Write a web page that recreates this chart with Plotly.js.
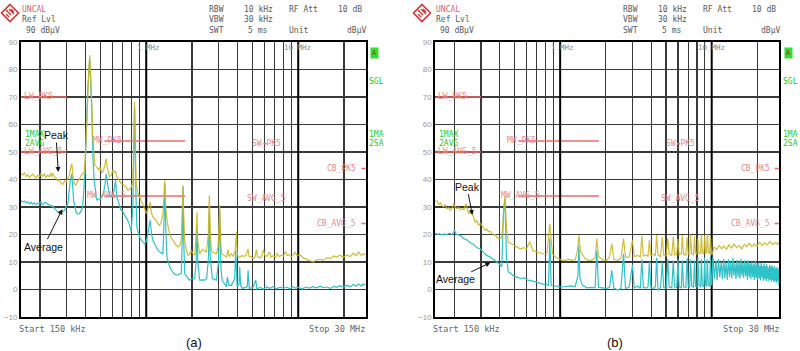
<!DOCTYPE html>
<html><head><meta charset="utf-8">
<script src="https://cdn.plot.ly/plotly-3.0.1.min.js"></script>
<style>html,body{margin:0;padding:0;background:#fff}#chart{width:800px;height:351px}</style>
</head><body><div id="chart"></div>
<script>
// ---------------- DATA (frequency in MHz, level in dBµV) ----------------
const panelLabels = ['(a)', '(b)'];
const yTicks = [-10, 0, 10, 20, 30, 40, 50, 60, 70, 80, 90];
const gridFreqs = [0.2,0.3,0.4,0.5,0.6,0.7,0.8,0.9,1,2,3,4,5,6,7,8,9,10,20];
const decadeFreqs = [1, 10];

const limitNames = ['LW_PK5','LW_AVG_5','MW_PK5','MW_AVG_5','SW_PK5','SW_AVG_5','CB_PK5','CB_AVG_5'];
const limitStart = [0.15, 0.15, 0.53, 0.53, 5.9, 5.9, 26, 26];
const limitStop  = [0.30, 0.30, 1.80, 1.80, 6.2, 6.2, 28, 28];
const limitLevel = [70, 50, 54, 34, 53, 33, 44, 24];

// panel (a): peak (1MAX) and average (2AVG) traces, [freq MHz, dBµV]
const aPeak = [[0.150,42.1],[0.154,41.6],[0.158,42.5],[0.162,41.0],[0.166,41.8],[0.170,40.8],[0.175,41.5],[0.179,42.0],[0.184,41.2],[0.188,40.6],[0.193,41.5],[0.198,41.0],[0.203,42.3],[0.208,41.2],[0.214,42.0],[0.219,40.8],[0.225,41.6],[0.231,40.9],[0.235,42.5],[0.239,41.0],[0.243,42.3],[0.249,41.0],[0.255,40.5],[0.262,39.5],[0.268,40.0],[0.275,38.5],[0.282,38.3],[0.290,39.5],[0.297,39.0],[0.305,40.5],[0.312,41.5],[0.318,44.0],[0.324,45.8],[0.330,41.0],[0.337,38.5],[0.345,38.0],[0.354,39.5],[0.363,40.0],[0.373,41.5],[0.382,42.0],[0.392,43.0],[0.402,54],[0.412,72],[0.419,80],[0.425,85.2],[0.432,78],[0.438,68],[0.445,55],[0.450,50],[0.460,45],[0.473,44.5],[0.485,43.5],[0.497,44.5],[0.510,42.5],[0.523,43.0],[0.535,45],[0.545,47.6],[0.551,45],[0.561,42.5],[0.573,41],[0.588,41.5],[0.604,43.5],[0.618,42.6],[0.628,43.0],[0.641,41.0],[0.667,39.5],[0.684,38.5],[0.702,38.3],[0.720,37.8],[0.738,37.3],[0.757,36.0],[0.776,36.7],[0.796,37.0],[0.817,39.5],[0.828,55],[0.838,68.2],[0.848,52],[0.859,38.5],[0.881,35],[0.904,33.6],[0.928,32.5],[0.951,31.2],[0.975,29.5],[1.000,27.6],[1.026,29],[1.052,31.0],[1.062,31.8],[1.080,28],[1.106,26.4],[1.135,25.8],[1.164,25.2],[1.194,24.0],[1.224,23.3],[1.256,24.5],[1.288,27.6],[1.305,33],[1.321,39.7],[1.338,32],[1.355,27.6],[1.390,23],[1.425,20.3],[1.462,18.8],[1.499,17.9],[1.540,16.5],[1.577,16.0],[1.617,15.5],[1.659,16],[1.701,17.9],[1.724,26],[1.745,37.9],[1.763,28],[1.790,17.9],[1.835,14.5],[1.882,12.4],[1.931,12.8],[1.980,14.2],[2.031,13.0],[2.083,12.5],[2.120,18],[2.158,28.2],[2.180,18],[2.247,13.0],[2.305,14.0],[2.360,14.5],[2.425,14.2],[2.487,13.5],[2.560,20],[2.602,34.2],[2.640,20],[2.685,14.2],[2.753,13.5],[2.820,13.2],[2.895,13.0],[2.970,15.5],[3.010,22],[3.045,30.6],[3.080,20],[3.123,13.0],[3.236,12.5],[3.367,11.8],[3.45,14.5],[3.507,12.0],[3.634,13.0],[3.727,12.0],[3.85,14],[3.92,21],[3.96,14],[4.02,11.8],[4.12,11.8],[4.29,12.4],[4.40,12],[4.55,12.5],[4.68,14.8],[4.75,12],[4.90,12],[5.05,11.2],[5.20,11.8],[5.31,14.5],[5.40,12],[5.59,11.5],[5.75,12.2],[5.90,14.5],[6.03,12.5],[6.20,12.0],[6.50,13.6],[6.60,11.8],[6.84,12.3],[7.10,11.8],[7.27,13.0],[7.50,12.0],[7.77,12.5],[8.00,12.2],[8.24,13.8],[8.50,12.4],[8.68,12.7],[9.00,12.0],[9.30,12.6],[9.55,13.5],[9.85,12.2],[10.2,12.8],[10.8,11.5],[11.35,11.0],[12.0,10.5],[12.56,10.0],[13.2,10.8],[13.9,11.0],[14.6,10.6],[15.4,11.6],[16.3,11.2],[17.1,12.2],[17.9,11.8],[18.8,12.5],[19.8,11.7],[21.0,12.6],[22.0,12.0],[23.0,13.2],[24.0,12.3],[25.0,13.6],[26.0,12.4],[26.8,13.0],[27.8,12.6]];

const aAvg = [[0.150,32.4],[0.154,31.8],[0.158,32.2],[0.162,31.5],[0.166,31.9],[0.170,31.2],[0.175,31.7],[0.179,31.0],[0.184,31.5],[0.188,30.9],[0.193,31.4],[0.198,31.2],[0.203,31.8],[0.208,30.8],[0.214,31.6],[0.219,31.6],[0.225,31.0],[0.231,30.8],[0.239,30.2],[0.243,30.4],[0.249,29.5],[0.255,29.0],[0.262,28.2],[0.268,28.5],[0.275,28.0],[0.282,28.4],[0.290,28.8],[0.297,30.0],[0.305,31.2],[0.315,38.5],[0.324,42.1],[0.333,32.4],[0.345,28.2],[0.354,27.5],[0.363,27.6],[0.373,28.5],[0.382,30],[0.396,43.3],[0.412,72.4],[0.425,84],[0.438,66.4],[0.446,48],[0.454,39.7],[0.473,32.4],[0.485,33.0],[0.497,33],[0.510,34],[0.523,34.8],[0.535,38],[0.545,42.1],[0.561,37.3],[0.573,34.5],[0.588,33.6],[0.605,34.5],[0.618,37],[0.628,39.7],[0.641,33.6],[0.667,31],[0.684,28.8],[0.702,28.3],[0.738,26.4],[0.757,25],[0.776,23.5],[0.796,21],[0.817,30],[0.838,66.4],[0.855,35],[0.868,22.7],[0.904,19.1],[0.940,17.5],[0.975,16.7],[1.000,17.5],[1.026,20.3],[1.062,25.2],[1.085,20],[1.106,17.9],[1.150,16],[1.194,14.2],[1.240,13.5],[1.288,13.0],[1.310,25],[1.328,38.5],[1.345,22],[1.369,11.8],[1.410,9],[1.462,7],[1.520,5.8],[1.577,5.2],[1.640,5.5],[1.701,5.8],[1.725,18],[1.745,37.3],[1.765,18],[1.790,5.8],[1.860,4.5],[1.931,3.4],[2.000,4.0],[2.083,4.0],[2.130,10],[2.158,22.7],[2.185,10],[2.247,3.4],[2.340,3.5],[2.425,3.4],[2.500,4.0],[2.570,12],[2.602,29.4],[2.635,12],[2.724,4.0],[2.895,3.4],[2.990,10],[3.045,28.8],[3.100,8],[3.155,3.4],[3.367,1.0],[3.42,4.5],[3.50,1.5],[3.634,1.5],[3.82,4],[3.88,14.2],[3.96,1.0],[4.08,2],[4.12,8.2],[4.18,1.5],[4.29,0.4],[4.55,0.8],[4.62,1],[4.68,7.0],[4.76,0.4],[5.05,0.8],[5.25,3.5],[5.35,0.2],[5.6,0.8],[5.9,0.2],[6.2,0.9],[6.5,0.4],[6.84,1.0],[7.2,0.3],[7.6,0.8],[8.0,0.5],[8.4,0.9],[8.8,0.3],[9.2,1.0],[9.6,0.5],[10.0,0.8],[10.6,0.2],[11.2,0.9],[11.8,0.5],[12.5,1.0],[13.2,0.6],[13.9,1.2],[14.6,0.7],[15.4,0.9],[16.3,0.4],[17.1,1.1],[17.9,0.8],[18.8,1.4],[19.8,0.9],[21.0,1.6],[22.0,1.0],[23.0,1.8],[24.0,1.2],[25.0,2.0],[26.0,1.3],[26.8,2.0],[27.8,1.6]];

// panel (b)
const bPeak = [[0.150,32.4],[0.154,32.0],[0.158,31.0],[0.162,31.5],[0.166,30.5],[0.170,30.0],[0.175,30.8],[0.179,29.4],[0.184,29.8],[0.188,28.8],[0.193,29.5],[0.198,31.2],[0.203,30.0],[0.208,29.4],[0.214,29.8],[0.219,29.0],[0.225,29.4],[0.231,29.0],[0.239,31.2],[0.245,28.5],[0.249,27.6],[0.255,28.0],[0.262,27.6],[0.268,26.5],[0.275,24.5],[0.282,25.0],[0.290,23.3],[0.297,24.0],[0.305,23.0],[0.312,22.5],[0.320,21.5],[0.328,22.0],[0.337,21.0],[0.345,21.2],[0.354,20.2],[0.363,19.7],[0.373,20.0],[0.382,19.0],[0.392,18.5],[0.402,18.5],[0.412,19.1],[0.422,28.8],[0.432,34.2],[0.442,22.7],[0.454,17.3],[0.473,16.7],[0.497,16.1],[0.523,15.5],[0.545,14.8],[0.575,15.2],[0.600,14.8],[0.630,17.5],[0.660,14.2],[0.702,13.6],[0.738,13.3],[0.776,13.0],[0.817,13.0],[0.838,18],[0.855,23.9],[0.872,18],[0.890,13],[0.930,11.8],[0.975,11.2],[1.026,10.6],[1.080,10.6],[1.135,11.0],[1.194,10.6],[1.256,10.8],[1.300,14],[1.330,19.7],[1.360,14],[1.400,13],[1.462,11.2],[1.540,10.6],[1.617,10.6],[1.700,11.5],[1.745,18.5],[1.790,12],[1.860,11.2],[1.931,10.6],[2.03,10.6],[2.12,12.0],[2.19,16.7],[2.26,11.0],[2.40,10.6],[2.52,11.5],[2.62,18.5],[2.70,11.8],[2.85,11.8],[3.0,17.9],[3.08,12.0],[3.25,12.4],[3.38,11.8],[3.46,19.5],[3.54,12.2],[3.70,12.6],[3.80,12.0],[3.88,18.0],[3.97,12.4],[4.15,12.8],[4.25,12.2],[4.33,19.8],[4.42,12.5],[4.60,12.0],[4.72,19.0],[4.82,12.6],[5.0,12.2],[5.13,18.5],[5.24,12.8],[5.45,12.4],[5.58,19.2],[5.68,12.5],[5.88,12.8],[5.98,18.4],[6.10,12.6],[6.30,13.0],[6.40,19.8],[6.52,12.8],[6.75,12.5],[6.88,19.0],[7.0,13.0],[7.15,12.8],[7.25,20.0],[7.38,13.0],[7.58,12.6],[7.70,19.4],[7.82,13.2],[8.0,12.8],[8.1,18.6],[8.25,13.0],[8.45,13.2],[8.55,20.0],[8.68,13.4],[8.88,13.0],[8.98,19.6],[9.12,13.2],[9.25,13.4],[9.35,20.2],[9.50,13.5],[9.70,13.2],[9.80,19.8],[9.92,13.0],[10.0,12.5],[10.4,15.5],[10.8,14.5],[11.2,16.0],[11.6,14.8],[12.0,15.8],[12.5,14.6],[13.0,16.2],[13.5,15.0],[14.0,16.5],[14.6,15.2],[15.2,16.0],[15.8,14.8],[16.4,16.4],[17.0,15.5],[17.7,16.8],[18.4,15.6],[19.1,16.5],[19.9,15.8],[20.7,17.2],[21.5,16.0],[22.4,17.0],[23.3,16.2],[24.2,17.5],[25.2,16.4],[26.2,17.0],[27.2,16.5],[27.8,17.3]];

const bAvg = [[0.150,20.5],[0.155,20.0],[0.160,20.3],[0.166,19.8],[0.172,20.2],[0.179,20.0],[0.186,20.5],[0.193,20.0],[0.198,20.8],[0.201,21.5],[0.206,20.2],[0.214,19.7],[0.222,19.5],[0.231,18.5],[0.243,18.0],[0.255,17.0],[0.268,16.5],[0.282,15.2],[0.297,14.8],[0.312,13.5],[0.328,12.4],[0.345,11.8],[0.363,11.0],[0.382,10.0],[0.402,9.0],[0.412,8.2],[0.422,27.6],[0.432,33.0],[0.442,11.8],[0.454,6.5],[0.473,5.8],[0.497,4.8],[0.523,4.5],[0.551,4.0],[0.580,4.2],[0.610,3.4],[0.641,3.2],[0.684,2.7],[0.738,2.1],[0.796,1.8],[0.838,1.5],[0.855,18.5],[0.872,1.5],[0.930,1.2],[1.000,1.0],[1.080,1.0],[1.164,1.3],[1.256,1.0],[1.310,5],[1.330,16.1],[1.350,4],[1.404,1.5],[1.499,0.6],[1.600,0.8],[1.700,0.6],[1.745,14.2],[1.790,0.8],[1.900,0.6],[2.03,0.4],[2.12,0.8],[2.19,7.0],[2.26,0.5],[2.40,-0.2],[2.52,0.4],[2.62,13.0],[2.70,0.4],[2.85,0.8],[3.0,9.0],[3.08,0.6],[3.25,1.2],[3.38,0.5],[3.46,11.0],[3.54,0.8],[3.70,0.5],[3.80,1.0],[3.88,10.0],[3.97,0.6],[4.15,0.4],[4.25,1.0],[4.33,11.5],[4.42,-0.3],[4.60,0.8],[4.72,10.0],[4.82,0.8],[5.0,0.4],[5.13,11.0],[5.24,0.8],[5.45,0.6],[5.58,10.5],[5.68,1.0],[5.88,0.7],[5.98,11.0],[6.10,1.0],[6.30,0.6],[6.40,10.5],[6.52,1.0],[6.75,0.8],[6.88,11.5],[7.0,1.2],[7.15,0.8],[7.25,11.0],[7.38,1.2],[7.58,0.9],[7.70,10.5],[7.82,1.2],[8.0,1.0],[8.1,11.5],[8.25,1.3],[8.45,1.0],[8.55,11.0],[8.68,1.4],[8.88,1.0],[8.98,11.5],[9.12,1.5],[9.25,1.1],[9.35,11.0],[9.50,1.5],[9.70,1.2],[9.80,12.0],[9.92,1.5],[10.0,2.0],[10.2,11.5],[10.4,4.0],[10.65,10.5],[10.85,3.5],[11.1,11.0],[11.3,4.5],[11.55,10.0],[11.75,3.8],[12.0,11.2],[12.2,4.2],[12.45,9.8],[12.65,3.5],[12.9,11.0],[13.1,4.5],[13.35,10.2],[13.55,4.0],[13.8,11.5],[14.0,5.0],[14.25,9.5],[14.45,3.8],[14.7,10.8],[14.9,4.6],[15.15,10.0],[15.35,3.9],[15.6,11.2],[15.8,5.0],[16.05,9.6],[16.25,4.2],[16.5,10.5],[16.75,4.8],[17.0,9.8],[17.2,3.6],[17.45,10.6],[17.7,4.5],[17.95,9.5],[18.15,3.8],[18.4,10.2],[18.65,4.6],[18.9,9.2],[19.1,3.5],[19.35,10.4],[19.6,4.2],[19.85,9.0],[20.05,3.6],[20.3,9.8],[20.55,4.0],[20.8,8.8],[21.0,3.4],[21.25,9.6],[21.5,4.4],[21.75,8.5],[21.95,3.2],[22.2,9.4],[22.45,3.8],[22.7,8.6],[22.9,3.0],[23.15,9.2],[23.4,4.0],[23.65,8.0],[23.85,3.0],[24.1,9.0],[24.35,3.6],[24.6,8.4],[24.8,2.8],[25.05,8.8],[25.3,3.5],[25.55,7.8],[25.75,2.6],[26.0,8.5],[26.25,3.2],[26.5,7.5],[26.7,2.5],[26.95,8.2],[27.2,3.0],[27.45,7.6],[27.65,2.4],[27.8,1.5]];

const panelData = [[aPeak, aAvg], [bPeak, bAvg]];

// ---------------- LAYOUT HELPERS ----------------
const W = 800, H = 351;
const px = x => x / W;
const py = y => 1 - y / H;
const PEAK_COLOR = 'rgba(201,181,30,0.88)', AVG_COLOR = '#2fc2c8', LIMIT_COLOR = '#f06a6a';
const LIMIT_TEXT = '#e98a8a', GREEN = '#22cc22', GRAYTXT = '#5a5a5a';
const MONO = 'DejaVu Sans Mono';
const offsets = [0, 414];
const plotLeft = [21, 435.3], plotRight = [365.7, 779];

const traces = [];
const annotations = [];
const shapes = [];

function txt(text, x, y, opt) {
  opt = opt || {};
  annotations.push({
    text: text, xref: 'paper', yref: 'paper', x: px(x), y: py(y),
    xanchor: opt.anchor || 'left', yanchor: 'middle', showarrow: false,
    font: {family: opt.family || MONO, size: opt.size || 8, color: opt.color || GRAYTXT},
    bgcolor: opt.bg, borderpad: opt.pad || 0
  });
}

const limitLabelPos = [[38.5,96.7],[43,152],[107,140],[106.5,195.7],[266,143],[266,198.3],[341,168],[336,223]];

for (let p = 0; p < 2; p++) {
  const xa = p === 0 ? 'x' : 'x2', ya = p === 0 ? 'y' : 'y2';
  const o = offsets[p];
  // limit lines
  for (let i = 0; i < limitNames.length; i++) {
    traces.push({x: [limitStart[i], limitStop[i]], y: [limitLevel[i], limitLevel[i]], xaxis: xa, yaxis: ya,
      mode: 'lines', line: {color: LIMIT_COLOR, width: 1.5}, hoverinfo: 'skip'});
    txt(limitNames[i], limitLabelPos[i][0] + o, limitLabelPos[i][1], {anchor: 'center', color: LIMIT_TEXT});
  }
  // decade lines
  for (const f of decadeFreqs) {
    traces.push({x: [f, f], y: [-10, 90], xaxis: xa, yaxis: ya, mode: 'lines',
      line: {color: '#000', width: 2}, hoverinfo: 'skip'});
  }
  const [pk, av] = panelData[p];
  traces.push({x: av.map(d => d[0]), y: av.map(d => d[1]), xaxis: xa, yaxis: ya, mode: 'lines',
    line: {color: AVG_COLOR, width: 1.2}, hoverinfo: 'skip'});
  traces.push({x: pk.map(d => d[0]), y: pk.map(d => d[1]), xaxis: xa, yaxis: ya, mode: 'lines',
    line: {color: PEAK_COLOR, width: 1.2}, hoverinfo: 'skip'});

  // header
  txt('UNCAL', 21 + o, 9, {color: '#e06666'});
  txt('Ref Lvl', 21 + o, 20);
  txt('90 dBµV', 25 + o, 31);
  txt('RBW', 208 + o, 9); txt('10 kHz', 243 + o, 9); txt('RF Att', 288 + o, 9); txt('10 dB', 337 + o, 9);
  txt('VBW', 208 + o, 20); txt('30 kHz', 243 + o, 20);
  txt('SWT', 208 + o, 31); txt('5 ms', 247 + o, 31); txt('Unit', 288 + o, 31); txt('dBµV', 346 + o, 31);
  txt('1 MHz', 136 + o, 47, {size: 7.5, color: '#8a8a8a'});
  txt('10 MHz', 283 + o, 47, {size: 7.5, color: '#8a8a8a'});
  // side indicators
  txt('A', 374 + o, 53.5, {anchor: 'center', size: 7, color: '#d02020', bg: '#33dd33', pad: 1});
  txt('SGL', 368 + o, 81, {color: GREEN});
  txt('1MA', 368 + o, 134.7, {color: GREEN});
  txt('2SA', 368 + o, 143.7, {color: GREEN});
  txt('1MAX', 24 + o, 134, {color: GREEN});
  txt('2AVG', 24 + o, 143, {color: GREEN});
  // bottom
  txt('Start 150 kHz', 18 + o, 328.5, {size: 8.5, color: '#666'});
  txt('Stop 30 MHz', 366 + o, 328.5, {size: 8.5, color: '#666', anchor: 'right'});
  txt(panelLabels[p], 194 + o * 1.016, 342, {anchor: 'center', family: 'Liberation Sans', size: 13, color: '#111'});
  // logo
  const cx = 10 + o - (p ? 2 : 0), cy = 13;
  const dia = r => `M ${px(cx)},${py(cy - r)} L ${px(cx + r)},${py(cy)} L ${px(cx)},${py(cy + r)} L ${px(cx - r)},${py(cy)} Z`;
  shapes.push({type: 'path', xref: 'paper', yref: 'paper', path: dia(8.5), line: {color: '#e03030', width: 1.6}, fillcolor: 'rgba(0,0,0,0)'});
  shapes.push({type: 'path', xref: 'paper', yref: 'paper',
    path: `M ${px(cx-4)},${py(cy-3)} L ${px(cx+1)},${py(cy+2)} M ${px(cx-1)},${py(cy-4)} L ${px(cx+4)},${py(cy+1)} M ${px(cx-4)},${py(cy+1)} L ${px(cx-1)},${py(cy+4)} M ${px(cx+1)},${py(cy-4)} L ${px(cx+4)},${py(cy-1)}`,
    line: {color: '#e03030', width: 1.4}});
}

// Peak / Average callouts
function callout(text, tipX, tipY, textX, textY) {
  annotations.push({text: text, xref: 'paper', yref: 'paper', x: px(tipX), y: py(tipY),
    ax: textX - tipX, ay: textY - tipY, axref: 'pixel', ayref: 'pixel', showarrow: true,
    arrowhead: 2, arrowsize: 1, arrowwidth: 1, arrowcolor: '#111', standoff: 0,
    font: {family: 'Liberation Sans', size: 10.5, color: '#111'}});
}
callout('Peak', 58.3, 172, 56, 135);
callout('Average', 62.3, 209.3, 43.7, 246.7);
callout('Peak', 472.3, 215, 467, 186.7);
callout('Average', 490.3, 262.7, 455.5, 279.3);

function xaxisDef(p) {
  return {type: 'log', domain: [px(plotLeft[p]), px(plotRight[p])], range: [Math.log10(0.15), 1.444],
    tickvals: gridFreqs, showticklabels: false, ticks: '', showgrid: true, gridcolor: '#3a3a3a', gridwidth: 1.2,
    showline: true, mirror: true, linecolor: '#000', linewidth: 2, zeroline: false,
    anchor: p ? 'y2' : 'y', fixedrange: true};
}
function yaxisDef(p) {
  return {domain: [(H - 317) / H, (H - 42) / H], range: [-10, 90], tickvals: yTicks, ticks: '',
    showgrid: true, gridcolor: '#3a3a3a', gridwidth: 1.2, showline: true, mirror: true, linecolor: '#000',
    linewidth: 2, zeroline: false, anchor: p ? 'x2' : 'x', fixedrange: true,
    tickfont: {family: 'Liberation Sans', size: 8, color: '#9a9a9a'}};
}

const layout = {
  width: W, height: H, margin: {l: 0, r: 0, t: 0, b: 0},
  paper_bgcolor: '#fff', plot_bgcolor: '#fff', showlegend: false,
  xaxis: xaxisDef(0), yaxis: yaxisDef(0), xaxis2: xaxisDef(1), yaxis2: yaxisDef(1),
  annotations: annotations, shapes: shapes
};
Plotly.newPlot('chart', traces, layout, {staticPlot: true, displayModeBar: false});
</script>
</body></html>
